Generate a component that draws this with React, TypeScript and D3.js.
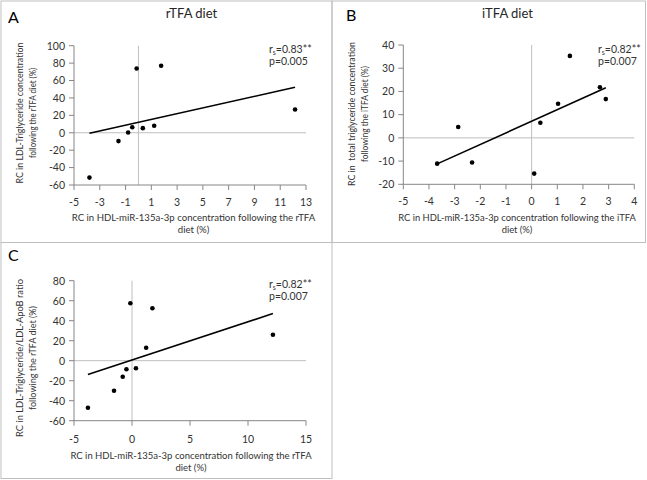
import React from "react";
import * as d3 from "d3";

// ---------- data ----------
const rtfaX = [-3.8, -1.55, -0.8, -0.48, -0.14, 0.34, 1.22, 1.76, 12.15];
const ldlTgY = [-51.5, -9.6, 0.3, 6.4, 73.8, 5.3, 8, 77, 26.7];
const ratioY = [-47, -30, -16, -8.5, 57.5, -7.5, 13, 52.5, 26];
const itfaX = [-3.68, -2.86, -2.32, 0.1, 0.34, 1.03, 1.49, 2.66, 2.89];
const totalTgY = [-11.1, 4.7, -10.6, -15.4, 6.5, 14.7, 35.3, 21.8, 16.7];

const ticksA_X = [-5, -3, -1, 1, 3, 5, 7, 9, 11, 13];
const ticksA_Y = [-60, -40, -20, 0, 20, 40, 60, 80, 100];
const ticksB_X = [-5, -4, -3, -2, -1, 0, 1, 2, 3, 4];
const ticksB_Y = [-20, -10, 0, 10, 20, 30, 40];
const ticksC_X = [-5, 0, 5, 10, 15];
const ticksC_Y = [-60, -40, -20, 0, 20, 40, 60, 80];

const panelLetters = ["A", "B", "C"];
const panelTitles = ["rTFA diet", "iTFA diet", ""];
const statR = ["0.83**", "0.82**", "0.82**"];
const statP = ["p=0.005", "p=0.007", "p=0.007"];
const xTitles = [
  ["RC in HDL-miR-135a-3p concentration following the rTFA", "diet (%)"],
  ["RC in HDL-miR-135a-3p concentration following the iTFA", "diet (%)"],
  ["RC in HDL-miR-135a-3p concentration following the rTFA", "diet (%)"],
];
const yTitles = [
  ["RC in LDL-Triglyceride concentration", "following the rTFA diet (%)"],
  ["RC in  total triglyceride concentration", "following the iTFA diet (%)"],
  ["RC in LDL-Triglyceride/LDL-ApoB ratio", "following the rTFA diet (%)"],
];

const FONT = "Lato, 'Liberation Sans', sans-serif";
const AXIS = "#868686";
const ZERO = "#bfbfbf";
const TXT = "#333333";

type PanelProps = {
  xs: number[];
  ys: number[];
  xTicks: number[];
  yTicks: number[];
  x0: number;
  x1: number;
  yTop: number;
  yBot: number;
  idx: number;
  letterPos: [number, number];
  titlePos: [number, number];
  statX: number;
  statY: number;
  xTitleX: number;
  xTitleY: number;
  xTitleFs: number;
  yTitleCy: number;
  yTitleX: [number, number];
  yTitleW: [number, number];
  yTitleFs: number;
  xLabelOff: number;
};

function Panel(p: PanelProps) {
  const x = d3
    .scaleLinear()
    .domain([p.xTicks[0], p.xTicks[p.xTicks.length - 1]])
    .range([p.x0, p.x1]);
  const y = d3
    .scaleLinear()
    .domain([p.yTicks[0], p.yTicks[p.yTicks.length - 1]])
    .range([p.yBot, p.yTop]);
  const mx = d3.mean(p.xs)!;
  const my = d3.mean(p.ys)!;
  let sxy = 0,
    sxx = 0;
  p.xs.forEach((v, i) => {
    sxy += (v - mx) * (p.ys[i] - my);
    sxx += (v - mx) * (v - mx);
  });
  const b = sxy / sxx;
  const a = my - b * mx;
  const [xmin, xmax] = d3.extent(p.xs) as [number, number];
  const line = d3.line<number>()
    .x((v) => x(v))
    .y((v) => y(a + b * v));
  return (
    <g fontFamily={FONT}>
      <text x={p.letterPos[0]} y={p.letterPos[1]} fontSize={16} fill="#000">
        {panelLetters[p.idx]}
      </text>
      {panelTitles[p.idx] && (
        <text x={p.titlePos[0]} y={p.titlePos[1]} fontSize={13} fill="#262626" textAnchor="middle">
          {panelTitles[p.idx]}
        </text>
      )}
      {/* zero lines */}
      <line x1={x(0)} x2={x(0)} y1={p.yTop} y2={p.yBot} stroke={ZERO} strokeWidth={1} />
      <line x1={p.x0} x2={p.x1} y1={y(0)} y2={y(0)} stroke={ZERO} strokeWidth={1} />
      {/* axes */}
      <line x1={p.x0} x2={p.x0} y1={p.yTop} y2={p.yBot} stroke={AXIS} />
      <line x1={p.x0} x2={p.x1} y1={p.yBot} y2={p.yBot} stroke={AXIS} />
      {p.yTicks.map((t) => (
        <g key={"y" + t}>
          <line x1={p.x0 - 5} x2={p.x0} y1={y(t)} y2={y(t)} stroke={AXIS} />
          <text x={p.x0 - 9} y={y(t) + 3.8} fontSize={10.5} fill={TXT} textAnchor="end">
            {t}
          </text>
        </g>
      ))}
      {p.xTicks.map((t) => (
        <g key={"x" + t}>
          <line x1={x(t)} x2={x(t)} y1={p.yBot} y2={p.yBot + 5} stroke={AXIS} />
          <text x={x(t)} y={p.yBot + p.xLabelOff} fontSize={10.5} fill={TXT} textAnchor="middle">
            {t}
          </text>
        </g>
      ))}
      <path d={line([xmin, xmax]) || ""} stroke="#000" strokeWidth={1.6} fill="none" />
      {p.xs.map((v, i) => (
        <circle key={i} cx={x(v)} cy={y(p.ys[i])} r={2.3} fill="#000" />
      ))}
      <text x={p.statX} y={p.statY} fontSize={10.5} fill={TXT}>
        r<tspan fontSize={7} dy={2}>s</tspan>
        <tspan dy={-2}>={statR[p.idx]}</tspan>
      </text>
      <text x={p.statX} y={p.statY + 12} fontSize={10.5} fill={TXT}>
        {statP[p.idx]}
      </text>
      <text x={p.xTitleX} y={p.xTitleY} fontSize={p.xTitleFs} fill={TXT} textAnchor="middle">
        {xTitles[p.idx][0]}
      </text>
      <text x={p.xTitleX} y={p.xTitleY + 11.5} fontSize={p.xTitleFs} fill={TXT} textAnchor="middle">
        {xTitles[p.idx][1]}
      </text>
      {yTitles[p.idx].map((s, k) => (
        <text
          key={k}
          transform={`translate(${p.yTitleX[k]},${p.yTitleCy}) rotate(-90)`}
          fontSize={p.yTitleFs}
          fill={TXT}
          textAnchor="middle"
          textLength={p.yTitleW[k]}
          lengthAdjust="spacingAndGlyphs"
          style={{ whiteSpace: "pre" }}
        >
          {s}
        </text>
      ))}
    </g>
  );
}

export default function App() {
  return (
    <svg
      width={647}
      height={480}
      style={{ position: "absolute", left: 0, top: 0, background: "#fff" }}
    >
      {/* frames */}
      <rect x={1} y={1} width={331} height={241.5} fill="none" stroke={ZERO} />
      <rect x={332} y={1} width={313.5} height={241.5} fill="none" stroke={ZERO} />
      <rect x={1} y={242.5} width={331} height={236} fill="none" stroke={ZERO} />
      <Panel
        idx={0}
        xs={rtfaX}
        ys={ldlTgY}
        xTicks={ticksA_X}
        yTicks={ticksA_Y}
        x0={74}
        x1={306}
        yTop={45.7}
        yBot={185}
        letterPos={[8, 23]}
        titlePos={[191.5, 18]}
        statX={269}
        statY={53}
        xTitleX={193.5}
        xTitleY={221}
        xTitleFs={9.6}
        yTitleCy={113}
        yTitleX={[23, 35.5]}
        yTitleW={[141, 90]}
        yTitleFs={9.5}
        xLabelOff={20.5}
      />
      <Panel
        idx={1}
        xs={itfaX}
        ys={totalTgY}
        xTicks={ticksB_X}
        yTicks={ticksB_Y}
        x0={403.3}
        x1={634.3}
        yTop={45}
        yBot={184.3}
        letterPos={[346, 21]}
        titlePos={[507.5, 18]}
        statX={598}
        statY={53}
        xTitleX={517}
        xTitleY={221}
        xTitleFs={9.4}
        yTitleCy={114}
        yTitleX={[355, 367.5]}
        yTitleW={[144, 96]}
        yTitleFs={9.5}
        xLabelOff={20.5}
      />
      <Panel
        idx={2}
        xs={rtfaX}
        ys={ratioY}
        xTicks={ticksC_X}
        yTicks={ticksC_Y}
        x0={74}
        x1={306}
        yTop={280.7}
        yBot={420.7}
        letterPos={[8, 261]}
        titlePos={[0, 0]}
        statX={269}
        statY={288}
        xTitleX={191}
        xTitleY={459}
        xTitleFs={9.5}
        yTitleCy={358}
        yTitleX={[23, 35.5]}
        yTitleW={[158, 104]}
        yTitleFs={10}
        xLabelOff={22}
      />
    </svg>
  );
}
